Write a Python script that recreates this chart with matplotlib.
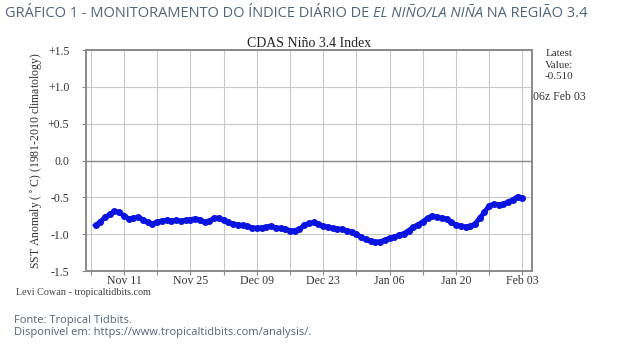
import numpy as np
import matplotlib
matplotlib.use("Agg")
import matplotlib.pyplot as plt
import matplotlib.dates as mdates
import datetime as dt

# daily Nino 3.4 anomaly, Nov 05 -> Feb 03
start = dt.date(2017, 11, 5)
anom = [-0.88, -0.83, -0.77, -0.73, -0.69, -0.70, -0.75, -0.79, -0.78, -0.77,
        -0.80, -0.84, -0.86, -0.83, -0.82, -0.81, -0.82, -0.81, -0.82, -0.81,
        -0.80, -0.79, -0.80, -0.84, -0.82, -0.78, -0.78, -0.81, -0.84, -0.86,
        -0.87, -0.88, -0.89, -0.91, -0.92, -0.91, -0.90, -0.89, -0.91, -0.92,
        -0.93, -0.95, -0.95, -0.93, -0.88, -0.85, -0.84, -0.86, -0.89, -0.90,
        -0.92, -0.93, -0.93, -0.95, -0.97, -1.00, -1.04, -1.07, -1.09, -1.11,
        -1.10, -1.08, -1.05, -1.04, -1.01, -0.99, -0.95, -0.90, -0.87, -0.83,
        -0.78, -0.75, -0.77, -0.78, -0.79, -0.84, -0.87, -0.89, -0.90, -0.89,
        -0.86, -0.78, -0.70, -0.61, -0.59, -0.60, -0.59, -0.56, -0.53, -0.49,
        -0.51]
days = [start + dt.timedelta(days=i) for i in range(len(anom))]

yticks = [1.5, 1.0, 0.5, 0.0, -0.5, -1.0, -1.5]
ylabels = ["+1.5", "+1.0", "+0.5", "0.0", "-0.5", "-1.0", "-1.5"]

serif = "Liberation Serif"
head_col = "#51657a"
txt = "#333333"

fig = plt.figure(figsize=(6.28, 3.53), dpi=100)
ax = fig.add_axes([0.137, 0.232, 0.71, 0.626])

ax.plot(days, anom, color="#0a14e0", lw=3.5, marker="o", ms=4, mec="#0a14e0")

ax.set_ylim(-1.5, 1.5)
ax.set_yticks(yticks)
ax.set_yticklabels(ylabels, fontfamily=serif, fontsize=8.5, color=txt)
ax.set_xlim(dt.date(2017, 11, 3), dt.date(2018, 2, 5))
major = [dt.date(2017, 11, 11) + dt.timedelta(days=14 * k) for k in range(7)]
minor = [dt.date(2017, 11, 4) + dt.timedelta(days=7 * k) for k in range(14)]
ax.set_xticks(major)
ax.set_xticks(minor, minor=True)
ax.xaxis.set_major_formatter(mdates.DateFormatter("%b %d"))
for t in ax.get_xticklabels():
    t.set_fontfamily(serif)
    t.set_fontsize(8.5)
    t.set_color(txt)

ax.grid(True, which="both", axis="x", color="#c8c8c8", lw=0.8)
ax.grid(True, which="major", axis="y", color="#c8c8c8", lw=0.8)
ax.axhline(0, color="#8a8a8a", lw=1)
ax.set_axisbelow(True)
for s in ax.spines.values():
    s.set_color("#8a8a8a")
    s.set_linewidth(1.4)
ax.tick_params(which="both", length=3, width=0.8, color="#8a8a8a")
ax.tick_params(axis="y", pad=9)
ax.tick_params(axis="x", pad=0)

ax.set_ylabel("SST Anomaly ($^\\circ$C) (1981-2010 climatology)",
              fontfamily=serif, fontsize=8.5, color=txt, labelpad=2)
ax.set_title("CDAS Niño 3.4 Index", fontfamily=serif, fontsize=10,
             color="#222222", pad=2)

fig.text(0.890, 0.86, "Latest\nValue:\n-0.510", ha="center", va="top",
         fontfamily=serif, fontsize=8, color=txt, linespacing=1.3)
fig.text(0.890, 0.725, "06z Feb 03", ha="center", va="center",
         fontfamily=serif, fontsize=8.5, color=txt)
fig.text(0.026, 0.172, "Levi Cowan - tropicaltidbits.com", ha="left",
         va="center", fontfamily=serif, fontsize=7.3, color="#444444")

# headline with italic part
hs = 10.5
t1 = fig.text(0.008, 0.963, "GRÁFICO 1 - MONITORAMENTO DO ÍNDICE DIÁRIO DE ",
              ha="left", va="center", fontfamily="Open Sans", fontsize=hs,
              color=head_col)
fig.canvas.draw()
x2 = t1.get_window_extent().x1 / fig.bbox.width
t2 = fig.text(x2, 0.963, "EL NIÑO/LA NIÑA", ha="left", va="center",
              fontfamily="Open Sans", fontstyle="italic", fontsize=hs,
              color=head_col)
fig.canvas.draw()
x3 = t2.get_window_extent().x1 / fig.bbox.width
fig.text(x3, 0.963, " NA REGIÃO 3.4", ha="left", va="center",
         fontfamily="Open Sans", fontsize=hs, color=head_col)

fig.text(0.022, 0.093, "Fonte: Tropical Tidbits.", ha="left", va="center",
         fontfamily="Open Sans", fontsize=8, color=head_col)
fig.text(0.022, 0.057, "Disponível em: https://www.tropicaltidbits.com/analysis/.",
         ha="left", va="center", fontfamily="Open Sans", fontsize=8,
         color=head_col)

fig.savefig("out.png", dpi=100, facecolor="white")
